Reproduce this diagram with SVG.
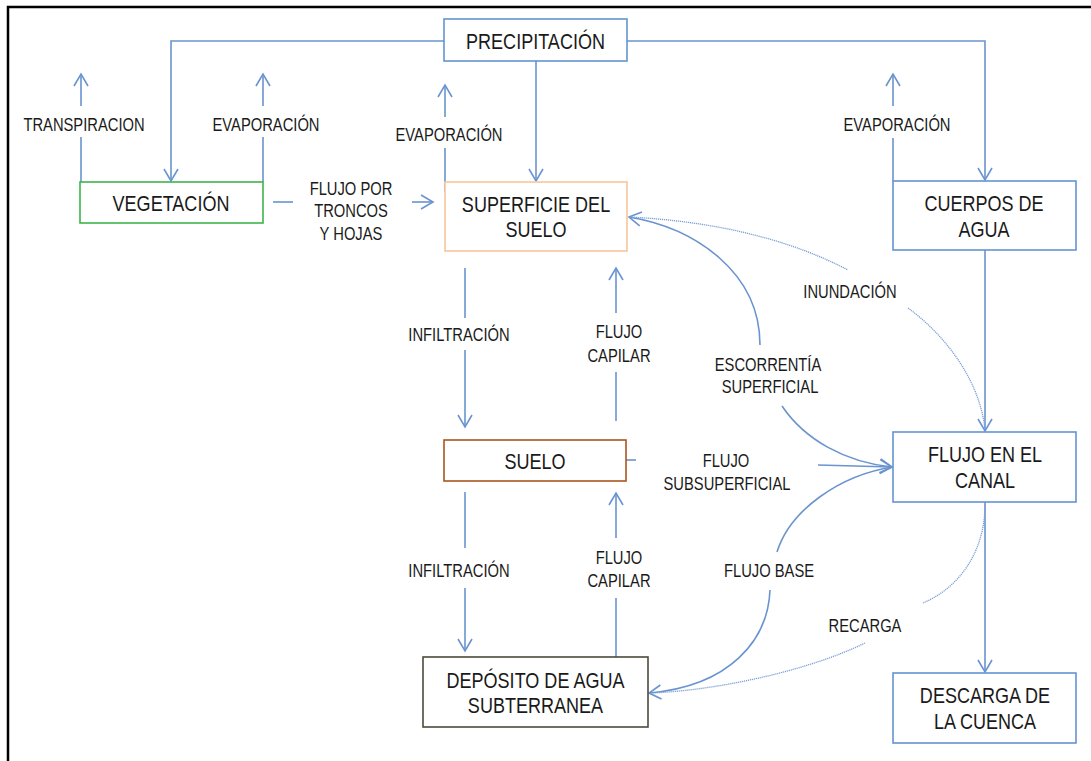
<svg xmlns="http://www.w3.org/2000/svg" width="1091" height="761" viewBox="0 0 1091 761">
<defs>
<style>
.n{font-family:"Liberation Sans",Arial,sans-serif;font-size:22px;fill:#1a1a1a;text-anchor:middle}
.l{font-family:"Liberation Sans",Arial,sans-serif;font-size:18px;fill:#1a1a1a;text-anchor:middle}
.c{fill:none;stroke:#6a94cf;stroke-width:1.6}
.d{fill:none;stroke:#7a9fd6;stroke-width:1.3;stroke-dasharray:1.2 0.8}
.bx{fill:#fff;stroke-width:1.6}
</style>
<marker id="a" markerUnits="userSpaceOnUse" markerWidth="20" markerHeight="20" viewBox="-14 -10 16 20" refX="0" refY="0" orient="auto">
<path d="M-12,-7 L0,0 L-12,7" fill="none" stroke="#6a94cf" stroke-width="1.6"/>
</marker>
</defs>
<rect width="1091" height="761" fill="#fff"/>
<path d="M8,761 L8,7 L1091,7" fill="none" stroke="#000" stroke-width="2.5"/>

<g id="connectors">
<path class="c" d="M444,41 L171,41 L171,181" marker-end="url(#a)"/>
<path class="c" d="M627,41 L985,41 L985,180" marker-end="url(#a)"/>
<path class="c" d="M536,61 L536,181" marker-end="url(#a)"/>
<path class="c" d="M81,182 L81,137"/>
<path class="c" d="M81,106 L81,74" marker-end="url(#a)"/>
<path class="c" d="M263,182 L263,137"/>
<path class="c" d="M263,106 L263,74" marker-end="url(#a)"/>
<path class="c" d="M445,192 L445,148"/>
<path class="c" d="M445,117 L445,85" marker-end="url(#a)"/>
<path class="c" d="M893,181 L893,138"/>
<path class="c" d="M893,106 L893,74" marker-end="url(#a)"/>
<path class="c" d="M273,202 L293,202"/>
<path class="c" d="M412,202 L433,202" marker-end="url(#a)"/>
<path class="c" d="M465,268 L465,318"/>
<path class="c" d="M465,350 L465,427" marker-end="url(#a)"/>
<path class="c" d="M616,421 L616,372"/>
<path class="c" d="M616,313 L616,268" marker-end="url(#a)"/>
<path class="c" d="M465,492 L465,548"/>
<path class="c" d="M465,588 L465,651" marker-end="url(#a)"/>
<path class="c" d="M616,657 L616,598"/>
<path class="c" d="M616,538 L616,493" marker-end="url(#a)"/>
<path class="c" d="M985,250 L985,431" marker-end="url(#a)"/>
<path class="c" d="M985,502 L985,672" marker-end="url(#a)"/>
<path class="c" d="M626,460 L636,460"/>
<path class="c" d="M818,465 L892,467" marker-end="url(#a)"/>
<path class="c" d="M760,345 C760,272 695,228 629,217" marker-end="url(#a)"/>
<path class="c" d="M782,406 C805,440 845,462 892,467" marker-end="url(#a)"/>
<path class="c" d="M893,467 C840,475 790,510 777,552"/>
<path class="c" d="M770,590 C768,640 730,686 649,693" marker-end="url(#a)"/>
<path class="d" d="M630,217 Q760,224 848,270"/>
<path class="d" d="M908,308 C945,335 980,380 985,430"/>
<path class="d" d="M985,505 C985,545 965,585 923,603"/>
<path class="d" d="M865,643 C810,670 720,690 652,693"/>
</g>

<g id="labels">
<text class="l" transform="translate(84,131) scale(0.82,1)">TRANSPIRACION</text>
<text class="l" transform="translate(266,131) scale(0.82,1)">EVAPORACIÓN</text>
<text class="l" transform="translate(449,141) scale(0.82,1)">EVAPORACIÓN</text>
<text class="l" transform="translate(897,131) scale(0.82,1)">EVAPORACIÓN</text>
<text class="l" transform="translate(351,195) scale(0.82,1)">FLUJO POR</text>
<text class="l" transform="translate(351,217) scale(0.82,1)">TRONCOS</text>
<text class="l" transform="translate(351,240) scale(0.82,1)">Y HOJAS</text>
<text class="l" transform="translate(459,341) scale(0.82,1)">INFILTRACIÓN</text>
<text class="l" transform="translate(619,338) scale(0.82,1)">FLUJO</text>
<text class="l" transform="translate(619,362) scale(0.82,1)">CAPILAR</text>
<text class="l" transform="translate(850,298) scale(0.82,1)">INUNDACIÓN</text>
<text class="l" transform="translate(768,371) scale(0.82,1)">ESCORRENTÍA</text>
<text class="l" transform="translate(770,393) scale(0.82,1)">SUPERFICIAL</text>
<text class="l" transform="translate(726,467) scale(0.82,1)">FLUJO</text>
<text class="l" transform="translate(727,490) scale(0.82,1)">SUBSUPERFICIAL</text>
<text class="l" transform="translate(459,577) scale(0.82,1)">INFILTRACIÓN</text>
<text class="l" transform="translate(619,564) scale(0.82,1)">FLUJO</text>
<text class="l" transform="translate(619,587) scale(0.82,1)">CAPILAR</text>
<text class="l" transform="translate(769,577) scale(0.82,1)">FLUJO BASE</text>
<text class="l" transform="translate(865,632) scale(0.82,1)">RECARGA</text>
</g>

<g id="precipitacion">
<rect class="bx" x="444" y="19" width="183" height="42" stroke="#6494d4"/>
<text class="n" transform="translate(535.5,49) scale(0.82,1)">PRECIPITACIÓN</text>
</g>
<g id="vegetacion">
<rect class="bx" x="80" y="182" width="183" height="41" stroke="#3cb44b"/>
<text class="n" transform="translate(171,211) scale(0.82,1)">VEGETACIÓN</text>
</g>
<g id="superficie">
<rect class="bx" x="445" y="182" width="182" height="69" stroke="#f9c69b"/>
<text class="n" transform="translate(536,212) scale(0.82,1)">SUPERFICIE DEL</text>
<text class="n" transform="translate(536,237) scale(0.82,1)">SUELO</text>
</g>
<g id="cuerpos">
<rect class="bx" x="893" y="181" width="183" height="69" stroke="#6494d4"/>
<text class="n" transform="translate(984,211) scale(0.82,1)">CUERPOS DE</text>
<text class="n" transform="translate(984,237) scale(0.82,1)">AGUA</text>
</g>
<g id="suelo">
<rect class="bx" x="444" y="440" width="182" height="41" stroke="#a9561e"/>
<text class="n" transform="translate(535,469) scale(0.82,1)">SUELO</text>
</g>
<g id="canal">
<rect class="bx" x="893" y="432" width="183" height="70" stroke="#6494d4"/>
<text class="n" transform="translate(985,462) scale(0.82,1)">FLUJO EN EL</text>
<text class="n" transform="translate(985,488) scale(0.82,1)">CANAL</text>
</g>
<g id="deposito">
<rect class="bx" x="423" y="657" width="225" height="70" stroke="#4d4a3c"/>
<text class="n" transform="translate(535.5,688) scale(0.82,1)">DEPÓSITO DE AGUA</text>
<text class="n" transform="translate(535.5,713) scale(0.82,1)">SUBTERRANEA</text>
</g>
<g id="descarga">
<rect class="bx" x="893" y="673" width="183" height="70" stroke="#6494d4"/>
<text class="n" transform="translate(985,703) scale(0.82,1)">DESCARGA DE</text>
<text class="n" transform="translate(985,729) scale(0.82,1)">LA CUENCA</text>
</g>
</svg>
